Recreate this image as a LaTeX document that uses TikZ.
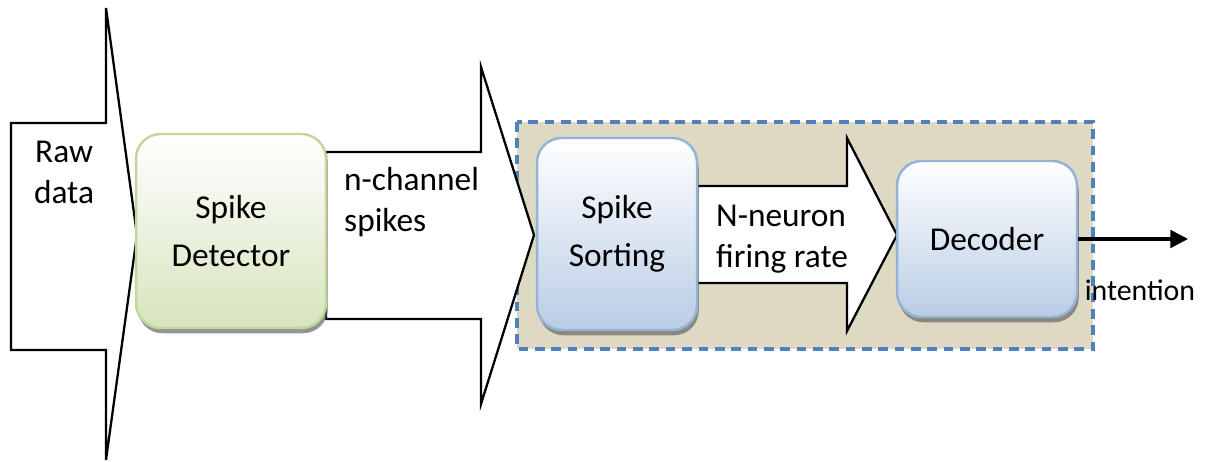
\documentclass[tikz,border=0pt]{standalone}
\usepackage{fontspec}
\setmainfont{Carlito}
\usetikzlibrary{arrows.meta}
\usetikzlibrary{shadows}
\usetikzlibrary{positioning}
\definecolor{detedge}{HTML}{C3D69B}
\definecolor{detfill}{HTML}{D7E4BD}
\definecolor{sortedge}{HTML}{95B3D7}
\definecolor{sortfill}{HTML}{B9CDE5}
\definecolor{tanbg}{HTML}{DDD9C3}
\definecolor{dashblue}{HTML}{4F81BD}

\begin{document}
\begin{tikzpicture}[x=0.02cm,y=-0.02cm,
  every node/.style={font=\fontsize{19}{23.3}\selectfont},
  box/.style={draw,line width=1.4pt,rounded corners=14pt,align=center,
    font=\fontsize{19}{27.5}\selectfont,
    drop shadow={shadow xshift=1pt,shadow yshift=-3pt,fill=black!60,opacity=.7}},
  twoline/.style={execute at begin node=\rule{0pt}{23pt}},
  greenbox/.style={box,draw=detedge,top color=white,bottom color=detfill},
  bluebox/.style={box,draw=sortedge,top color=white,bottom color=sortfill},
  flow/.style={draw=black,fill=white,line width=1.3pt}]
  \useasboundingbox (0,0) rectangle (1209,462);
  \draw[draw=dashblue,fill=tanbg,line width=2pt,dash pattern=on 5.5pt off 3.8pt] (517,122) rectangle (1093,349);
  \draw[flow](11,123)--(106,123)--(106,8)--(137,235)--(106,460)--(106,350)--(11,350)--cycle;
  \draw[flow](326,152)--(481,152)--(481,67)--(534,235)--(481,404)--(481,319)--(326,319)--cycle;
  \draw[flow](697,186)--(847,186)--(847,138)--(897,235)--(847,331)--(847,283)--(697,283)--cycle;
  \node[greenbox,twoline,minimum width=3.8cm,minimum height=3.88cm] (det) at (231,231) {Spike\\Detector};
  \node[bluebox,twoline,minimum width=3.2cm,minimum height=3.84cm] (sort) at (617,234) {Spike\\Sorting};
  \node[bluebox,minimum width=3.6cm,minimum height=3.12cm] (dec) at (987,239) {Decoder};
  \node[align=center] (raw) at (64,172) {Raw\\data};
  \node[align=left,anchor=west] (chan) at (338,202) {n-channel\\spikes};
  \node[align=left,anchor=west] (rate) at (710,239) {N-neuron\\firing rate};
  \node[font=\fontsize{17}{20}\selectfont] (intent) at (1140,290) {intention};
  \coordinate (out) at (1188,239);
  \draw[line width=1.8pt,-{Triangle[length=10pt,width=10pt]}](dec.east)--(out);
  \end{tikzpicture}
\end{document}
